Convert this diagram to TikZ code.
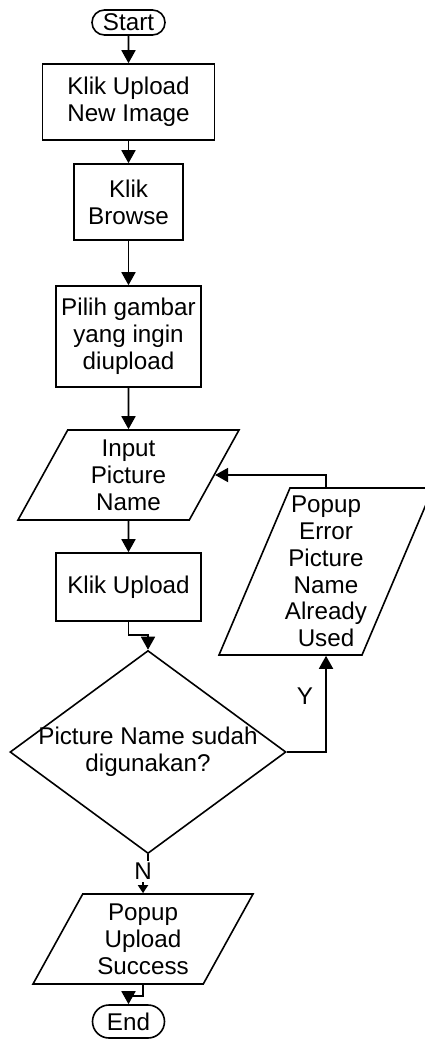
\documentclass[tikz,border=0pt]{standalone}
\usepackage{fontspec}
\setmainfont{Liberation Sans}
\usetikzlibrary{arrows.meta,shapes.geometric,shapes.misc}
\tikzset{
  box/.style={draw=black, line width=0.8pt, align=center, inner sep=0pt, font=\fontsize{12.1}{13.4}\selectfont},
  term/.style={box, rounded rectangle},
  io/.style={box, trapezium, trapezium stretches body, inner xsep=-5pt, trapezium left angle=54.8, trapezium right angle=125.2},
  decision/.style={box, diamond, aspect=1.36, inner xsep=-5pt},
  arrow/.style={-{Triangle[length=6.5pt,width=7pt]}, line width=0.9pt},
  smallarrow/.style={-{Triangle[length=4pt,width=5pt]}, line width=0.9pt},
  lbl/.style={font=\fontsize{12.1}{13.4}\selectfont, inner sep=1pt}
}
\begin{document}
\begin{tikzpicture}[x=0.5pt, y=-0.5pt]
\useasboundingbox (0,0) rectangle (424,1041);
% steps
\node[term, minimum width=36.5pt, minimum height=12.5pt] (start) at (128.5,22.5) {Start};
\node[box, minimum width=86pt, minimum height=38pt] (upnew) at (128.5,102) {Klik Upload\\New Image};
\node[box, minimum width=54.5pt, minimum height=38pt] (browse) at (128.5,202) {Klik\\Browse};
\node[box, minimum width=72.5pt, minimum height=50.5pt] (pilih) at (128.5,336.5) {Pilih gambar\\yang ingin\\diupload};
\node[io, minimum width=110.5pt, minimum height=45pt] (nama) at (128.5,475) {Input\\Picture\\Name};
\node[box, minimum width=72.5pt, minimum height=34pt] (upload) at (128.5,587) {Klik Upload};
\node[decision, minimum width=138pt, minimum height=101.5pt] (cek) at (148,752) {Picture Name sudah\\digunakan?};
\node[io, trapezium left angle=64.8, trapezium right angle=115.2, minimum width=107pt, minimum height=83.5pt] (gagal) at (326,571.5) {Popup\\Error\\Picture\\Name\\Already\\Used};
\node[io, minimum width=110pt, minimum height=45pt] (sukses) at (143,939) {Popup\\Upload\\Success};
\node[term, minimum width=36pt, minimum height=16.5pt] (end) at (128.5,1021.5) {End};
% connectors
\draw[arrow] (start) -- (upnew);
\draw[arrow] (upnew) -- (browse);
\draw[arrow] (browse) -- (pilih);
\draw[arrow] (pilih) -- (nama);
\draw[arrow] (nama) -- (upload);
\draw[arrow] (upload.south) -- ++(0,13) -| (cek.north);
\draw[arrow] (cek) -| node[lbl, pos=0.79, left=5pt] {Y} (gagal);
\draw[arrow] (gagal) |- (nama);
\draw[smallarrow] (cek.south) -- ++(0,17) -| node[lbl, fill=white] {N} (sukses);
\draw[arrow] (sukses) -- (sukses |- 0,996) -| (end);
\end{tikzpicture}
\end{document}
